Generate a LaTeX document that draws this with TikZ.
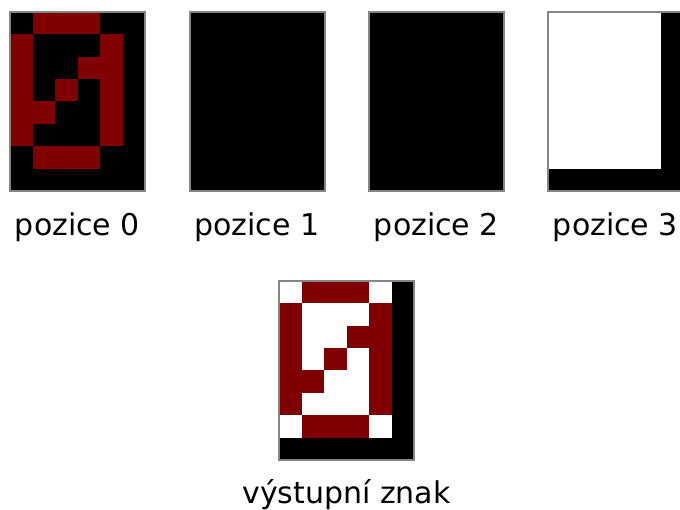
\documentclass[tikz,border=0pt]{standalone}
\usepackage{fontspec}
\setmainfont{DejaVu Sans}
\usetikzlibrary{positioning}
\definecolor{GlyphRed}{HTML}{800000}
\definecolor{FrameGray}{HTML}{858585}
% lit pixels of the digit (column/row, row 0 on top)
\def\zerocells{1/0,2/0,3/0,0/1,4/1,0/2,3/2,4/2,0/3,2/3,4/3,0/4,1/4,4/4,0/5,4/5,1/6,2/6,3/6}

\begin{document}
\begin{tikzpicture}[x=1pt,y=1pt,
  panel/.style={minimum width=135pt,minimum height=179pt,inner sep=0pt,outer sep=0pt},
  frame/.style={draw=FrameGray,line width=2pt},
  grid/.style={x=22.5pt,y=-22.375pt},
  caption/.style={font=\fontsize{30}{36}\selectfont,anchor=base,inner sep=0pt}
]
\fill[white] (0,0) rectangle (680,510);
\useasboundingbox (0,0) rectangle (680,510);
% input positions
\node[panel,fill=black] (p0) at (77.5,408.5) {};
\node[panel,fill=black] (p1) at (257,408.5) {};
\node[panel,fill=black] (p2) at (436.5,408.5) {};
\node[panel,fill=white] (p3) at (615.5,408.5) {};
% output character
\node[panel,fill=white] (out) at (346.5,139.5) {};

\begin{scope}[shift={(p0.north west)},grid]
  \foreach \c/\r in \zerocells {\fill[GlyphRed] (\c,\r) rectangle ++(1,1);}
\end{scope}
\begin{scope}[shift={(p3.north west)},grid]
  \fill[black] (5,0) rectangle (6,8);
  \fill[black] (0,7) rectangle (6,8);
\end{scope}
\begin{scope}[shift={(out.north west)},grid]
  \foreach \c/\r in \zerocells {\fill[GlyphRed] (\c,\r) rectangle ++(1,1);}
  \fill[black] (5,0) rectangle (6,8);
  \fill[black] (0,7) rectangle (6,8);
\end{scope}

\foreach \n in {p0,p1,p2,p3,out}
  \draw[frame] (\n.north west) rectangle (\n.south east);

\node[caption] (l0) at ([yshift=-45pt]p0.south) {pozice 0};
\node[caption] (l1) at ([yshift=-45pt]p1.south) {pozice 1};
\node[caption] (l2) at ([yshift=-45pt]p2.south) {pozice 2};
\node[caption] (l3) at ([yshift=-45pt]p3.south) {pozice 3};
\node[caption] (lout) at ([yshift=-44pt]out.south) {výstupní znak};
\end{tikzpicture}
\end{document}
